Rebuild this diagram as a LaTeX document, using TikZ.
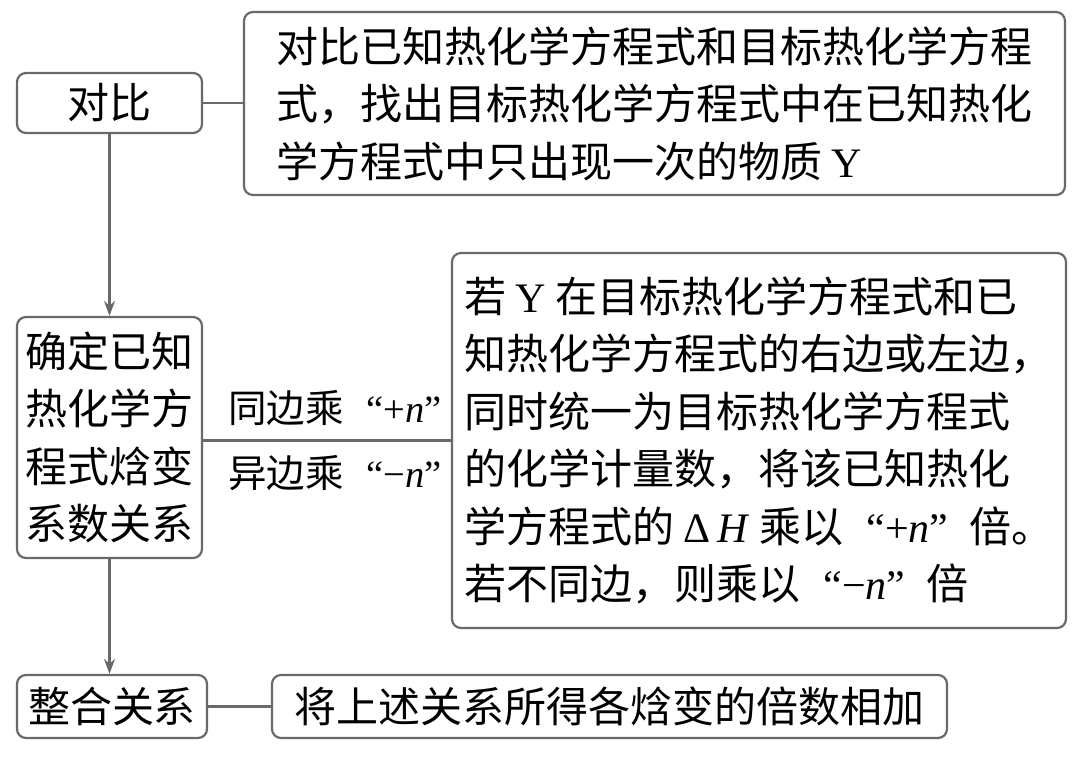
\documentclass[tikz,border=0pt]{standalone}
\usepackage{fontspec}
\setmainfont{Noto Sans CJK SC}
\newfontfamily\lat{Liberation Serif}
\usetikzlibrary{arrows.meta}
\definecolor{linegray}{RGB}{105,105,105}
\tikzset{
  box/.style={draw=linegray, line width=2.2pt, rounded corners=9pt, inner sep=0pt, align=left,
    font=\fontsize{42}{57.5}\selectfont},
  conn/.style={draw=linegray, line width=2.2pt},
  arr/.style={conn, -{Stealth[length=15pt,width=11pt]}},
  lbl/.style={font=\fontsize{38.5}{44}\selectfont, inner sep=0pt, xshift=8pt}
}
\newcommand{\ql}[1]{\hspace{0.6em}{\lat “#1”}}
\newcommand{\qm}[1]{\hspace{0.55em}{\lat “#1”}\hspace{0.5em}}
\begin{document}
\begin{tikzpicture}[x=1pt,y=-1pt]
\useasboundingbox (0,0) rectangle (1080,756);
\node[box, minimum width=185pt, minimum height=60pt] (dui) at (109.5,103) {对比};
\node[box, minimum width=821pt, minimum height=183pt] (t1) at (654.5,103.5)
  {对比已知热化学方程式和目标热化学方程\\式，找出目标热化学方程式中在已知热化\\学方程式中只出现一次的物质 {\lat Y}};
\node[box, minimum width=185pt, minimum height=241pt, align=center] (que) at (109.5,437.5)
  {确定已知\\热化学方\\程式焓变\\系数关系};
\node[box, minimum width=614pt, minimum height=375pt] (t2) at (759,440.5)
  {若 {\lat Y} 在目标热化学方程式和已\\知热化学方程式的右边或左边，\\同时统一为目标热化学方程式\\的化学计量数，将该已知热化\\学方程式的 {\lat Δ\,\textit{H}} 乘以\qm{+\textit{n}}倍。\\若不同边，则乘以\qm{−\textit{n}}倍};
\node[box, minimum width=190pt, minimum height=63pt] (zh) at (112,706.5) {整合关系};
\node[box, minimum width=675pt, minimum height=63pt] (t3) at (609.5,706.5) {将上述关系所得各焓变的倍数相加};
\draw[conn] (dui.east) -- (t1.west |- dui.east);
\draw[arr] (dui.south) -- (que.north);
\draw[conn] (que.east |- t2.west) -- (t2.west)
  node[lbl, pos=0.5, above=14pt] (l1) {同边乘\ql{+\textit{n}}}
  node[lbl, pos=0.5, below=14pt] (l2) {异边乘\ql{−\textit{n}}};
\draw[arr] (que.south) -- (que.south |- zh.north);
\draw[conn] (zh.east) -- (t3.west);
\end{tikzpicture}
\end{document}
